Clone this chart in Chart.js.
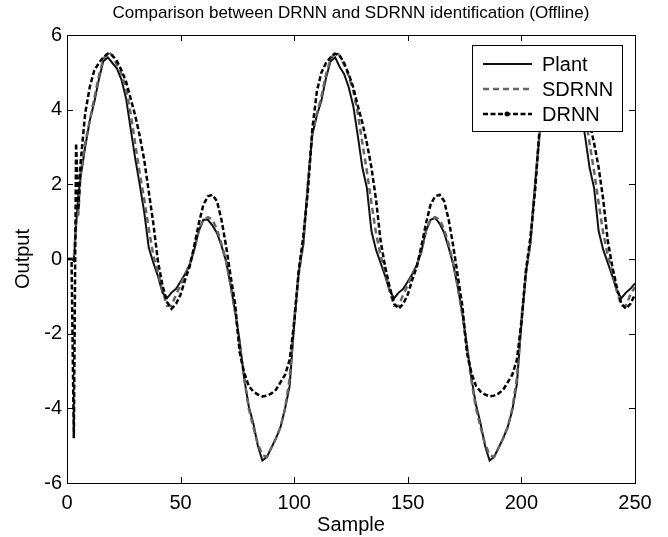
<!DOCTYPE html>
<html>
<head>
<meta charset="utf-8">
<script src="https://cdn.jsdelivr.net/npm/chart.js@4.4.0/dist/chart.umd.min.js"></script>
<style>
  html, body { margin: 0; padding: 0; background: #fff; }
</style>
</head>
<body>
<canvas id="c" width="668" height="537"></canvas>
<script>
// sample index (fine steps at the start, then every 2 samples)
const samples = [0, 1, 2, 3, 4, 5,
  6, 8, 10, 12, 14, 16, 18, 20, 22, 24,
  26, 28, 30, 32, 34, 36, 38, 40, 42, 44,
  46, 48, 50, 52, 54, 56, 58, 60, 62, 64,
  66, 68, 70, 72, 74, 76, 78, 80, 82, 84,
  86, 88, 90, 92, 94, 96, 98, 100, 102, 104,
  106, 108, 110, 112, 114, 116, 118, 120, 122, 124,
  126, 128, 130, 132, 134, 136, 138, 140, 142, 144,
  146, 148, 150, 152, 154, 156, 158, 160, 162, 164,
  166, 168, 170, 172, 174, 176, 178, 180, 182, 184,
  186, 188, 190, 192, 194, 196, 198, 200, 202, 204,
  206, 208, 210, 212, 214, 216, 218, 220, 222, 224,
  226, 228, 230, 232, 234, 236, 238, 240, 242, 244,
  246, 248, 250];

const plant = [0, 0, 0, -0.05, 0.9, 1.7,
  2.2, 3.0, 3.7, 4.2, 4.8, 5.3, 5.4, 5.25, 5.1, 4.8,
  4.3, 3.5, 2.7, 2.0, 1.25, 0.3, -0.1, -0.45, -0.9, -1.05,
  -0.9, -0.8, -0.6, -0.4, -0.15, 0.25, 0.75, 1.05, 1.05, 0.9,
  0.7, 0.35, -0.05, -0.7, -1.4, -2.2, -3.2, -3.95, -4.4, -5.0,
  -5.4, -5.3, -5.05, -4.8, -4.5, -4.0, -3.4, -1.75, -0.35, 0.4,
  2.0, 3.35, 3.85, 4.25, 4.85, 5.3, 5.4, 5.15, 4.95, 4.6,
  4.1, 3.3, 2.45, 1.9, 0.75, 0.25, -0.1, -0.45, -0.85, -1.05,
  -0.9, -0.8, -0.6, -0.4, -0.15, 0.2, 0.75, 1.05, 1.1, 0.95,
  0.7, 0.3, -0.15, -0.75, -1.45, -2.3, -3.2, -3.9, -4.4, -5.0,
  -5.4, -5.3, -5.05, -4.8, -4.5, -4.05, -3.35, -1.75, -0.35, 0.45,
  2.0, 3.35, 3.85, 4.25, 4.85, 5.3, 5.4, 5.15, 4.95, 4.6,
  4.1, 3.3, 2.45, 1.9, 0.75, 0.25, -0.1, -0.45, -0.85, -1.05,
  -0.9, -0.8, -0.65];

const sdrnn = [0, 0, 0, 0, 1.0, 1.2,
  2.3, 3.1, 3.7, 4.3, 4.9, 5.35, 5.55, 5.45, 5.2, 4.95,
  4.55, 3.9, 3.1, 2.3, 1.6, 0.8, 0.1, -0.35, -0.85, -1.25,
  -1.25, -0.95, -0.7, -0.4, -0.15, 0.25, 0.75, 1.05, 1.12, 1.05,
  0.8, 0.4, -0.05, -0.7, -1.45, -2.3, -3.2, -4.0, -4.5, -4.95,
  -5.25, -5.3, -5.05, -4.8, -4.5, -4.0, -3.2, -1.6, -0.4, 0.4,
  2.0, 3.35, 3.9, 4.35, 4.95, 5.35, 5.55, 5.45, 5.2, 4.9,
  4.5, 3.9, 3.1, 2.35, 1.5, 0.7, 0.1, -0.35, -0.85, -1.25,
  -1.25, -0.95, -0.7, -0.4, -0.15, 0.2, 0.75, 1.05, 1.12, 1.05,
  0.8, 0.4, -0.1, -0.75, -1.5, -2.35, -3.25, -4.0, -4.5, -4.95,
  -5.25, -5.3, -5.05, -4.8, -4.5, -4.0, -3.2, -1.6, -0.4, 0.45,
  2.0, 3.35, 3.9, 4.35, 4.95, 5.35, 5.55, 5.45, 5.2, 4.9,
  4.5, 3.9, 3.1, 2.35, 1.5, 0.7, 0.1, -0.35, -0.85, -1.25,
  -1.25, -0.95, -0.75];

const drnn = [0, 0, 0, -4.8, 3.1, 1.3,
  2.6, 3.9, 4.6, 5.05, 5.25, 5.4, 5.5, 5.45, 5.3, 5.05,
  4.75, 4.3, 3.85, 3.3, 2.65, 1.8, 0.95, -0.05, -0.7, -1.15,
  -1.33, -1.2, -0.95, -0.55, -0.2, 0.35, 0.95, 1.45, 1.68, 1.72,
  1.55, 1.05, 0.35, -0.45, -1.2, -2.5, -3.05, -3.4, -3.55, -3.63,
  -3.68, -3.66, -3.6, -3.5, -3.3, -3.1, -2.7, -1.7, -0.3, 0.6,
  1.8, 3.5, 4.5, 5.0, 5.25, 5.4, 5.5, 5.45, 5.25, 4.95,
  4.6, 4.1, 3.65, 3.1, 2.45, 1.6, 0.5, -0.2, -0.75, -1.2,
  -1.33, -1.2, -0.95, -0.55, -0.2, 0.35, 0.95, 1.45, 1.68, 1.72,
  1.55, 1.05, 0.35, -0.45, -1.25, -2.5, -3.05, -3.4, -3.55, -3.63,
  -3.68, -3.66, -3.6, -3.5, -3.3, -3.1, -2.7, -1.7, -0.3, 0.6,
  1.8, 3.5, 4.5, 5.0, 5.25, 5.4, 5.5, 5.45, 5.25, 4.95,
  4.6, 4.1, 3.65, 3.1, 2.45, 1.6, 0.5, -0.2, -0.75, -1.2,
  -1.33, -1.2, -0.95];

const xTicks = [0, 50, 100, 150, 200, 250];
const yTicks = [-6, -4, -2, 0, 2, 4, 6];

const FONT = '"Liberation Sans", Arial, sans-serif';
const toPoints = ys => samples.map((x, i) => ({ x, y: ys[i] }));

// matlab style box, inward ticks, boxed legend inside the axes
const matlabAxes = {
  id: 'matlabAxes',
  afterDraw(chart) {
    const { ctx, chartArea: a, scales } = chart;
    ctx.save();
    ctx.strokeStyle = '#000';
    ctx.lineWidth = 1;
    ctx.setLineDash([]);
    ctx.strokeRect(a.left + 0.5, a.top + 0.5, a.right - a.left, a.bottom - a.top);
    const tl = 6;
    ctx.beginPath();
    xTicks.forEach(v => {
      const px = Math.round(scales.x.getPixelForValue(v)) + 0.5;
      ctx.moveTo(px, a.bottom); ctx.lineTo(px, a.bottom - tl);
      ctx.moveTo(px, a.top); ctx.lineTo(px, a.top + tl);
    });
    yTicks.forEach(v => {
      const py = Math.round(scales.y.getPixelForValue(v)) + 0.5;
      ctx.moveTo(a.left, py); ctx.lineTo(a.left + tl, py);
      ctx.moveTo(a.right, py); ctx.lineTo(a.right - tl, py);
    });
    ctx.stroke();

    // legend
    const w = 150, h = 86;
    const lx = a.right - 13 - w, ly = a.top + 10;
    ctx.fillStyle = '#fff';
    ctx.fillRect(lx, ly, w, h);
    ctx.strokeRect(lx + 0.5, ly + 0.5, w, h);
    ctx.font = '20px ' + FONT;
    ctx.textBaseline = 'middle';
    chart.data.datasets.forEach((ds, i) => {
      const ry = ly + 19 + i * 25;
      ctx.strokeStyle = ds.borderColor;
      ctx.lineWidth = ds.borderWidth;
      ctx.setLineDash(ds.borderDash || []);
      ctx.beginPath();
      ctx.moveTo(lx + 11, ry); ctx.lineTo(lx + 60, ry);
      ctx.stroke();
      if (ds.label === 'DRNN') {
        ctx.fillStyle = '#000';
        ctx.beginPath();
        ctx.arc(lx + 35, ry, 2.5, 0, Math.PI * 2);
        ctx.fill();
      }
      ctx.setLineDash([]);
      ctx.fillStyle = '#000';
      ctx.fillText(ds.label, lx + 70, ry + 1);
    });
    ctx.restore();
  }
};

const ctx = document.getElementById('c').getContext('2d');
new Chart(ctx, {
  type: 'line',
  data: {
    datasets: [
      { label: 'Plant', data: toPoints(plant), borderColor: '#111', borderWidth: 2, pointRadius: 0, tension: 0, order: 3 },
      { label: 'SDRNN', data: toPoints(sdrnn), borderColor: '#666', borderWidth: 2.5, borderDash: [6, 4], pointRadius: 0, tension: 0, order: 2 },
      { label: 'DRNN', data: toPoints(drnn), borderColor: '#000', borderWidth: 2.5, borderDash: [5, 2.5], pointRadius: 0, tension: 0, order: 1 }
    ]
  },
  options: {
    responsive: false,
    devicePixelRatio: 1,
    animation: false,
    layout: { padding: { left: 0, right: 33, top: 0, bottom: 0 } },
    plugins: {
      legend: { display: false },
      tooltip: { enabled: false },
      title: { display: false }
    },
    scales: {
      x: {
        type: 'linear', min: 0, max: 250,
        afterBuildTicks: s => { s.ticks = xTicks.map(v => ({ value: v })); },
        afterFit: s => { s.height = 54; },
        grid: { display: false, drawTicks: false },
        border: { display: false },
        ticks: { color: '#000', padding: 8, maxRotation: 0, font: { family: FONT, size: 20 } },
        title: { display: true, text: 'Sample', color: '#000', padding: 0, font: { family: FONT, size: 20 } }
      },
      // top axis only carries the plot title, centred over the axes like matlab
      xTop: {
        type: 'linear', position: 'top', min: 0, max: 250,
        afterFit: s => { s.height = 35; },
        grid: { display: false, drawTicks: false },
        border: { display: false },
        ticks: { display: false },
        title: {
          display: true,
          text: 'Comparison between DRNN and SDRNN identification (Offline)',
          color: '#000', padding: { top: 3, bottom: 0 },
          font: { family: FONT, size: 17 }
        }
      },
      y: {
        type: 'linear', min: -6, max: 6,
        afterBuildTicks: s => { s.ticks = yTicks.map(v => ({ value: v })); },
        afterFit: s => { s.width = 67; },
        grid: { display: false, drawTicks: false },
        border: { display: false },
        ticks: { color: '#000', padding: 5, font: { family: FONT, size: 20 } },
        title: { display: true, text: 'Output', color: '#000', padding: { top: 11, bottom: 0 }, font: { family: FONT, size: 20 } }
      }
    }
  },
  plugins: [matlabAxes]
});
</script>
</body>
</html>
